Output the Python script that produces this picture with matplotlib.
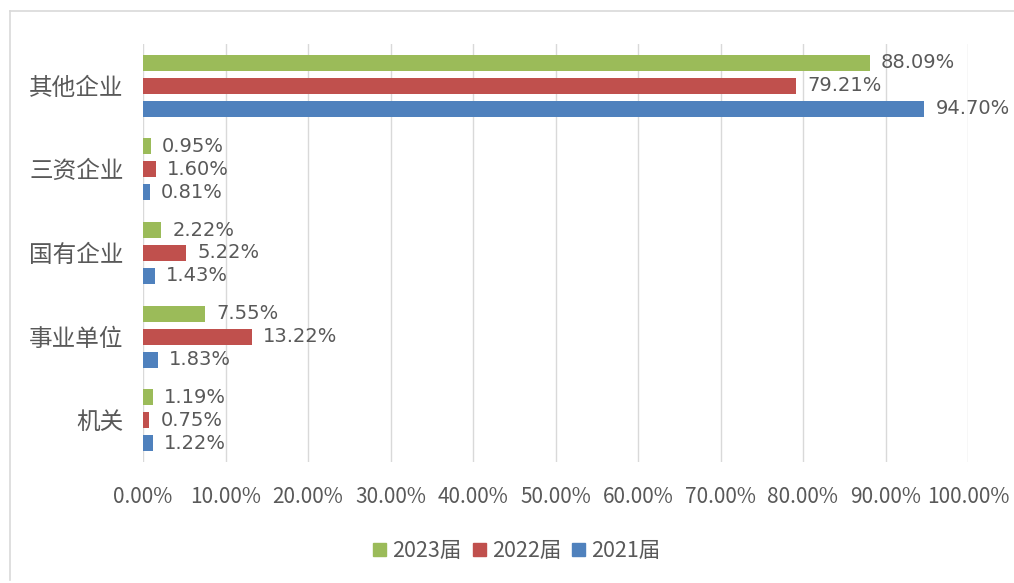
import numpy as np
import matplotlib
matplotlib.use("Agg")
import matplotlib.pyplot as plt
from matplotlib.lines import Line2D
from matplotlib.patches import Patch

plt.rcParams['font.family'] = ['Noto Sans CJK SC', 'DejaVu Sans']

categories = ['机关', '事业单位', '国有企业', '三资企业', '其他企业']
series = ['2023届', '2022届', '2021届']
v2023 = [1.19, 7.55, 2.22, 0.95, 88.09]
v2022 = [0.75, 13.22, 5.22, 1.60, 79.21]
v2021 = [1.22, 1.83, 1.43, 0.81, 94.70]
colors = ['#9BBB59', '#C0504D', '#4F81BD']
text_c = '#595959'

fig = plt.figure(figsize=(10.14, 5.83), dpi=100)
ax = fig.add_axes([143/1014, 1-462/583, (968-143)/1014, (462-44)/583])

y = np.arange(len(categories))
step = 0.275
h = 0.19
for i, (vals, c) in enumerate(zip([v2023, v2022, v2021], colors)):
    pos = y + step * (1 - i)
    ax.barh(pos, vals, height=h, color=c, zorder=2)
    for p, v in zip(pos, vals):
        ax.annotate(f'{v:.2f}%', (v, p), xytext=(8, 0), textcoords='offset points',
                    ha='left', va='center', fontsize=14, color=text_c,
                    family=['DejaVu Sans'])

ax.set_xlim(0, 100)
ax.set_ylim(-0.5, len(categories) - 0.5)
ax.set_xticks(np.arange(0, 101, 10))
ax.set_xticklabels([f'{t:.2f}%' for t in range(0, 101, 10)], fontsize=15, color=text_c)
ax.set_yticks(y)
ax.set_yticklabels(categories, fontsize=17, color=text_c)
ax.tick_params(length=0)
ax.tick_params(axis='x', pad=17)
ax.tick_params(axis='y', pad=14)
ax.grid(axis='x', color='#D9D9D9', lw=1, zorder=0)
for s in ax.spines.values():
    s.set_visible(False)

handles = [Patch(color=c) for c in colors]
fig.legend(handles, series, loc='center', bbox_to_anchor=(517/1014, 1-551/583),
           ncol=3, frameon=False, fontsize=15.5, handlelength=0.6, handleheight=0.6,
           handletextpad=0.3, columnspacing=0.5, labelcolor=text_c)

fig.add_artist(Line2D([10/1014, 10/1014], [0.005, 1-11/583], transform=fig.transFigure, color='#D9D9D9', lw=1.2))
fig.add_artist(Line2D([10/1014, 1.0], [1-11/583, 1-11/583], transform=fig.transFigure, color='#D9D9D9', lw=1.2))

fig.savefig('out.png', dpi=100)
